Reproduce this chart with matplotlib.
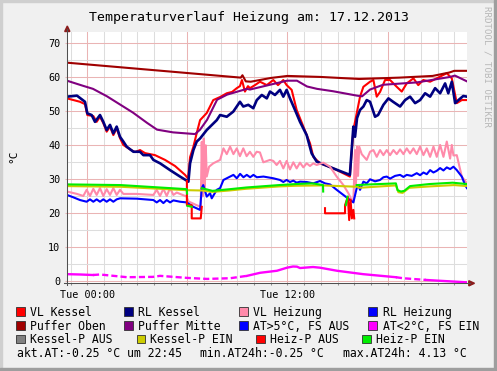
import numpy as np
import matplotlib
matplotlib.use("Agg")
import matplotlib.pyplot as plt
from matplotlib.patches import Rectangle, Polygon
from matplotlib.lines import Line2D
from matplotlib.transforms import blended_transform_factory

plt.rcParams['font.family'] = ['DejaVu Sans Mono']

nan = np.nan

# ---------------- data (time in hours relative to Tue 00:00, values in °C)
title = 'Temperaturverlauf Heizung am: 17.12.2013'
x_start, x_end = -1.2, 22.78
y_min, y_max = -0.59, 73.32
y_ticks = [0, 10, 20, 30, 40, 50, 60, 70]
x_tick_hours = [0, 12]
x_tick_labels = ['Tue 00:00', 'Tue 12:00']
y_unit = '°C'

vl_kessel_t = [-1.22, -0.44, -0.14, 0.0, 0.36, 0.56, 0.76, 0.96, 1.16, 1.36, 1.56, 1.76, 1.96, 2.16,
               2.56, 2.86, 3.16, 3.46, 4.06, 4.66, 5.26, 5.86, 6.04, 6.16, 6.36, 6.56, 6.76, 6.95,
               7.16, 7.55, 7.96, 8.36, 8.68, 8.96, 9.15, 9.27, 9.45, 9.63, 9.75, 10.05, 10.35, 10.76,
               11.15, 11.43, 11.75, 11.95, 12.25, 12.55, 12.95, 13.35, 13.55, 13.95, 14.75, 15.74,
               15.95, 16.15, 16.35, 16.55, 16.95, 17.15, 17.35, 17.55, 17.85, 18.15, 18.55, 18.85,
               19.15, 19.55, 19.84, 20.14, 20.55, 20.95, 21.55, 21.85, 22.15, 22.45, 22.76]
vl_kessel_v = [53.8, 52.8, 52.1, 48.9, 48.6, 46.9, 48.4, 46.5, 44.0, 45.5, 43.0, 45.0, 42.1, 40.1,
               38.8, 38.0, 38.6, 37.7, 37.1, 35.7, 33.9, 31.3, 30.2, 36.5, 39.6, 43.6, 47.4, 48.4,
               49.5, 53.3, 54.2, 55.3, 55.7, 56.8, 57.4, 59.2, 55.8, 57.4, 56.8, 57.7, 58.7, 57.7,
               59.2, 57.7, 59.2, 57.7, 56.3, 50.4, 45.5, 40.6, 36.6, 34.7, 33.2, 30.8,
               44.5, 49.4, 54.3, 57.2, 58.7, 59.2, 54.3, 55.7, 59.2, 59.2, 57.2, 55.8,
               58.2, 59.7, 57.7, 59.2, 58.7, 59.7, 61.2, 59.7, 52.4, 53.3, 53.3]

rl_kessel_t = [-1.22, -0.62, -0.14, 0.0, 0.26, 0.46, 0.76, 0.96, 1.16, 1.36, 1.56, 1.76, 1.96, 2.16,
               2.36, 2.76, 3.16, 3.36, 3.76, 3.96, 4.36, 4.96, 5.56, 6.06, 6.16, 6.36, 6.56, 6.76,
               7.16, 7.76, 7.96, 8.36, 8.75, 9.15, 9.35, 9.65, 9.95, 10.16, 10.46, 10.76, 10.95,
               11.25, 11.55, 11.75, 11.95, 12.15, 12.45, 12.75, 13.15, 13.45, 13.75, 14.75, 15.74,
               15.95, 16.05, 16.17, 16.35, 16.55, 16.75, 16.95, 17.25, 17.43, 17.75, 18.05, 18.33,
               18.75, 19.05, 19.35, 19.65, 19.95, 20.25, 20.55, 20.85, 21.15, 21.45, 21.64, 21.85,
               22.05, 22.25, 22.54, 22.76]
rl_kessel_v = [54.3, 54.6, 52.8, 49.4, 48.9, 46.9, 48.9, 46.9, 44.5, 46.0, 43.5, 45.5, 42.5, 41.1,
               39.6, 38.1, 38.1, 37.1, 37.1, 35.7, 34.7, 32.7, 30.8, 29.3, 34.7, 38.6, 41.1, 42.0,
               44.5, 47.4, 48.9, 48.4, 49.9, 52.8, 51.4, 51.9, 50.9, 53.3, 54.8, 53.8, 55.8,
               54.8, 56.3, 54.3, 56.3, 53.8, 50.4, 46.9, 43.0, 37.6, 35.2, 33.2, 31.3,
               45.5, 42.5, 48.0, 50.4, 51.4, 53.3, 52.8, 48.4, 48.9, 51.9, 53.8, 52.8,
               51.4, 53.3, 54.3, 52.4, 53.3, 55.3, 54.3, 56.8, 55.3, 58.2, 55.3, 58.7,
               52.4, 53.3, 54.5, 54.3]

vl_heizung_t = [-1.22, -0.62, -0.24, -0.04, 0.16, 0.36, 0.56, 0.76, 0.96, 1.16, 1.36, 1.56, 1.76, 1.96,
                2.16, 2.96, 3.96, 4.16, 4.36, 4.56, 4.76, 4.96, 5.16, 5.36, 5.96, 6.06, 6.5, 6.8,
                6.86, 6.92, 6.98, 7.04, 7.1, 7.16, 7.3, 7.55, 7.96, 8.16, 8.36, 8.56, 8.76, 8.96,
                9.15, 9.35, 9.55, 9.75, 9.95, 10.15, 10.35, 10.55, 10.95, 11.15, 11.35, 11.55, 11.75,
                11.95, 12.15, 12.35, 12.55, 12.75, 12.95, 13.15, 13.35, 13.55, 13.75, 14.15, 14.55,
                14.95, 15.35, 15.65, 15.85, 15.95, 16.05, 16.1, 16.17, 16.23, 16.3, 16.45, 16.75,
                16.95, 17.15, 17.35, 17.55, 17.75, 17.95, 18.15, 18.35, 18.55, 18.75, 18.95, 19.15,
                19.35, 19.55, 19.75, 19.95, 20.15, 20.35, 20.55, 20.75, 20.95, 21.15, 21.35, 21.55,
                21.75, 21.85, 21.95, 22.15, 22.45, 22.76]
vl_heizung_v = [26.4, 25.7, 25.1, 26.9, 25.1, 27.2, 25.4, 27.4, 25.1, 27.1, 25.4, 27.4, 25.4, 26.9,
                25.7, 25.7, 25.4, 26.9, 25.1, 27.2, 25.1, 27.4, 25.4, 26.1, 24.9, 23.5, 22.5, 21.9,
                41.0, 25.0, 42.0, 27.0, 40.0, 30.8, 33.7, 34.7, 35.7, 39.1, 37.4, 39.6, 37.4, 39.1,
                36.8, 39.1, 36.8, 38.1, 36.6, 38.1, 37.9, 35.0, 35.7, 35.4, 34.2, 35.4, 33.2,
                35.4, 32.9, 35.0, 33.2, 34.9, 33.5, 34.7, 33.9, 34.7, 34.2, 34.9, 33.7,
                30.8, 28.3, 25.9, 23.9, 23.5, 38.6, 28.0, 39.6, 31.0, 39.6, 37.4, 35.7,
                38.1, 38.6, 36.6, 38.6, 37.1, 38.6, 37.1, 38.6, 37.4, 38.8, 37.4, 39.1,
                37.6, 39.1, 37.4, 39.6, 37.1, 39.1, 36.6, 39.6, 36.6, 40.1, 36.6, 41.1,
                36.1, 40.1, 37.0, 37.1, 30.8, 28.8]

rl_heizung_t = [-1.22, -0.84, -0.44, -0.04, 0.16, 0.36, 0.56, 0.76, 0.96, 1.16, 1.36, 1.56, 1.76, 1.96,
                2.96, 3.96, 4.16, 4.36, 4.56, 4.76, 4.96, 5.16, 5.56, 5.96, 6.36, 6.76, 6.86, 6.95,
                7.16, 7.36, 7.46, 7.76, 7.96, 8.16, 8.36, 8.56, 8.76, 8.96, 9.16, 9.36, 9.56, 9.76,
                9.96, 10.16, 10.56, 11.15, 11.55, 11.75, 11.95, 12.15, 12.35, 12.55, 12.75, 13.15,
                13.55, 13.95, 14.25, 14.55, 14.95, 15.35, 15.75, 15.95, 16.15, 16.25, 16.35, 16.55,
                16.75, 16.95, 17.25, 17.55, 17.75, 17.95, 18.15, 18.45, 18.75, 18.95, 19.15, 19.45,
                19.75, 19.95, 20.15, 20.35, 20.55, 20.75, 20.95, 21.15, 21.35, 21.55, 21.75, 21.95,
                22.15, 22.45, 22.65, 22.76]
rl_heizung_v = [25.4, 24.7, 23.9, 23.4, 24.1, 23.4, 24.1, 23.4, 24.1, 23.4, 24.1, 23.4, 24.1, 24.4,
                24.3, 23.9, 23.2, 23.9, 23.0, 23.9, 23.2, 23.8, 23.4, 23.2, 21.9, 21.0, 27.4, 28.3,
                24.9, 25.9, 24.4, 26.9, 27.4, 29.8, 30.3, 30.8, 31.3, 30.3, 31.6, 30.6, 31.3, 30.6,
                31.3, 30.6, 30.8, 30.3, 29.8, 29.2, 29.8, 29.2, 29.6, 29.0, 29.3, 29.2,
                28.8, 29.5, 28.8, 28.5, 26.9, 25.4, 23.9, 23.2, 27.4, 28.3, 26.9, 29.3,
                28.8, 30.0, 29.4, 29.8, 30.6, 30.8, 30.2, 31.0, 31.3, 30.7, 31.3, 31.0,
                31.8, 31.2, 32.0, 31.5, 32.7, 32.0, 32.5, 33.3, 32.6, 33.5, 33.0, 33.7,
                32.7, 30.8, 28.3, 27.4]

puffer_oben_t = [-1.22, 9.2, 9.3, 9.5, 9.8, 11.0, 12.0, 14.0, 16.3, 18.7, 20.7, 21.7, 22.0, 22.76]
puffer_oben_v = [64.3, 59.9, 60.6, 58.8, 58.7, 59.8, 60.4, 60.1, 59.5, 59.9, 60.4, 61.4, 61.9, 61.9]

puffer_mitte_t = [-1.22, -0.26, 0.34, 1.18, 1.96, 2.74, 3.58, 4.18, 5.14, 6.46, 6.76, 7.18, 7.78, 8.38,
                  9.57, 9.75, 11.97, 12.57, 13.17, 13.77, 14.73, 16.17, 16.47, 16.95, 17.73, 19.77,
                  21.74, 22.04, 22.76]
puffer_mitte_v = [59.0, 57.5, 56.6, 54.4, 52.0, 49.6, 46.6, 44.6, 43.8, 43.3, 44.6, 47.5, 53.4, 54.9,
                  56.6, 56.4, 59.0, 59.0, 57.3, 56.6, 55.9, 54.6, 54.4, 56.4, 57.8, 58.5,
                  60.1, 60.5, 58.8]

at_t = [-1.22, -0.44, 0.34, 0.76, 2.38, 3.94, 4.36, 5.98, 7.18, 8.56, 9.57, 10.36, 11.37, 11.97,
        12.33, 12.57, 12.75, 13.53, 13.95, 14.97, 16.53, 18.5, 18.93, 20.3, 20.96, 22.76]
at_v = [2.1, 2.0, 1.85, 2.0, 1.2, 1.3, 1.6, 1.0, 0.7, 0.9, 1.6, 2.5, 3.1, 4.0,
        4.35, 4.3, 3.9, 4.2, 4.0, 3.1, 2.1, 1.2, 0.9, 0.4, 0.2, -0.3]
at_dashed_ranges = [(0.34, 9.57), (18.5, 20.3)]

kessel_p_ein_t = [-1.22, 2.0, 5.96, 6.9, 7.5, 8.5, 9.5, 11.5, 12.5, 14.1, 16.2, 16.3, 18.5, 18.65,
                  18.9, 19.3, 20.5, 22.0, 22.76]
kessel_p_ein_v = [28.0, 27.8, 26.8, 26.7, 26.3, 26.7, 27.2, 27.9, 28.1, 28.2, 27.8, 27.5, 28.2, 26.2,
                  26.0, 27.5, 27.9, 28.3, 28.0]

heiz_p_ein_t = [-1.22, 2.0, 5.96, 5.98, 5.99, 6.0, 6.26, 6.5, 6.86, 7.5, 8.56, 9.55, 11.5, 12.5,
                13.5, 14.13, 14.14, 14.5, 15.5, 15.6, 15.9, 16.15, 17.0, 18.5, 18.6, 18.8, 19.0,
                19.35, 20.5, 21.9, 22.76]
heiz_p_ein_v = [28.5, 28.3, 27.1, 25.8, nan, 22.2, 21.9, nan, 27.4, 26.6, 27.1, 27.6, 28.3, 28.6,
                28.8, 28.3, 26.4, nan, 22.4, 24.9, nan, 28.3, 28.5, 28.8, 26.8, 26.4, 26.6,
                28.0, 28.6, 29.0, 28.6]

heiz_p_aus_t = [5.97, 5.97, 6.26, 6.26, 6.8, 6.86, 10.0, 14.25, 14.25, 15.45, 15.45, 15.62, 15.7,
                15.78, 15.86, 15.95, 16.0]
heiz_p_aus_v = [29.5, 22.4, 22.4, 18.5, 18.5, 21.9, nan, 21.5, 20.0, 20.0, 22.4, 24.8, 18.0,
                24.0, 18.5, 21.0, 18.5]

legend_labels = ['VL Kessel', 'RL Kessel', 'VL Heizung', 'RL Heizung',
                 'Puffer Oben', 'Puffer Mitte', 'AT>5°C, FS AUS', 'AT<2°C, FS EIN',
                 'Kessel-P AUS', 'Kessel-P EIN', 'Heiz-P AUS', 'Heiz-P EIN']
stats_texts = ['akt.AT:-0.25 °C um 22:45', 'min.AT24h:-0.25 °C', 'max.AT24h: 4.13 °C']
watermark = 'RRDTOOL / TOBI OETIKER'

# ---------------- styles
C_VLK, C_RLK, C_VLH, C_RLH = '#ff0000', '#000080', '#ff8aaa', '#0000ff'
C_PO, C_PM, C_AT5, C_AT2 = '#a00000', '#800080', '#0000ff', '#ff00ff'
C_KPA, C_KPE, C_HPA, C_HPE = '#808080', '#cccc00', '#ff0000', '#00ee00'
legend_colors = [C_VLK, C_RLK, C_VLH, C_RLH, C_PO, C_PM, C_AT5, C_AT2, C_KPA, C_KPE, C_HPA, C_HPE]

W, H, DPI = 497, 371, 100
BG = '#f0f0f0'
MAJ = '#eab4b4'
MIN = '#dddddd'

fig = plt.figure(figsize=(W / DPI, H / DPI), dpi=DPI)
fig.patch.set_facecolor(BG)


def fx(px):
    return px / W


def fy(py):
    return 1 - py / H


# frame shading
fig.patches.append(Rectangle((0, fy(2)), 1, 2 / H, transform=fig.transFigure, color='#cfcfcf', zorder=0))
fig.patches.append(Rectangle((0, 0), 2 / W, 1, transform=fig.transFigure, color='#cfcfcf', zorder=0))
fig.patches.append(Rectangle((0, 0), 1, 3 / H, transform=fig.transFigure, color='#9e9e9e', zorder=0))
fig.patches.append(Rectangle((fx(494), 0), 3 / W, 1, transform=fig.transFigure, color='#9e9e9e', zorder=0))

AX_L, AX_R, AX_T, AX_B = 67.3, 467.3, 32.0, 283.3
ax = fig.add_axes([fx(AX_L), fy(AX_B), (AX_R - AX_L) / W, (AX_B - AX_T) / H])
ax.set_facecolor('white')
ax.set_xlim(x_start, x_end)
ax.set_ylim(y_min, y_max)
for s in ax.spines.values():
    s.set_visible(False)

# grid
for h in range(-1, 23):
    ax.axvline(h, color=MAJ if h % 6 == 0 else MIN, lw=0.75, zorder=1)
for v in range(5, 75, 5):
    ax.axhline(v, color=MAJ if v % 10 == 0 else MIN, lw=0.75, zorder=1)
ax.axhline(0, color=MAJ, lw=0.75, zorder=1)

# ticks
ax.set_yticks(y_ticks)
ax.set_yticklabels([str(v) for v in y_ticks])
ax.tick_params(axis='y', length=1.5, width=0.75, color=MAJ, pad=3.4, labelsize=7.3)
ax.set_xticks(list(range(-1, 23)))
ax.set_xticklabels([])
ax.tick_params(axis='x', length=1.5, width=0.75, color='#909090')
trx = blended_transform_factory(ax.transData, fig.transFigure)
for h, lab in zip(x_tick_hours, x_tick_labels):
    ax.text(h, fy(298), lab, transform=trx, ha='center', va='baseline', fontsize=7.3)

# data lines
lw = 1.5
ax.plot(vl_kessel_t, vl_kessel_v, color=C_VLK, lw=lw, zorder=3)
ax.plot(rl_kessel_t, rl_kessel_v, color=C_RLK, lw=1.9, zorder=3)
ax.plot(vl_heizung_t, vl_heizung_v, color=C_VLH, lw=lw, zorder=3)
ax.plot(rl_heizung_t, rl_heizung_v, color=C_RLH, lw=lw, zorder=3)
ax.plot(puffer_oben_t, puffer_oben_v, color=C_PO, lw=lw, zorder=3)
ax.plot(puffer_mitte_t, puffer_mitte_v, color=C_PM, lw=lw, zorder=3)

# outside temperature, split into solid and dashed stretches
at_t_arr = np.array(at_t)
at_v_arr = np.array(at_v)


def dashed_at(t0, t1):
    m = 0.5 * (t0 + t1)
    return any(a <= m <= b for a, b in at_dashed_ranges)


start = 0
for i in range(1, len(at_t_arr)):
    cur = dashed_at(at_t_arr[i - 1], at_t_arr[i])
    nxt = dashed_at(at_t_arr[i], at_t_arr[i + 1]) if i + 1 < len(at_t_arr) else None
    if nxt != cur:
        seg_t = at_t_arr[start:i + 1]
        seg_v = at_v_arr[start:i + 1]
        ax.plot(seg_t, seg_v, color=C_AT2, lw=1.7, zorder=3,
                linestyle=(0, (2.6, 1.3)) if cur else '-')
        start = i

ax.plot(kessel_p_ein_t, kessel_p_ein_v, color=C_KPE, lw=lw, zorder=3)
ax.plot(heiz_p_aus_t, heiz_p_aus_v, color=C_HPA, lw=lw, zorder=3)
ax.plot(heiz_p_ein_t, heiz_p_ein_v, color=C_HPE, lw=lw, zorder=3)

# axes lines & arrows
AXC = '#505050'
ARC = '#8b1c1c'
fig.add_artist(Line2D([fx(AX_L), fx(AX_L)], [fy(AX_B + 2), fy(29)], color=AXC, lw=0.75,
                      transform=fig.transFigure))
fig.add_artist(Line2D([fx(AX_L - 3), fx(470)], [fy(AX_B), fy(AX_B)], color=AXC, lw=0.75,
                      transform=fig.transFigure))
fig.add_artist(Polygon([[fx(AX_L), fy(26.0)], [fx(AX_L - 2.6), fy(31.5)], [fx(AX_L + 2.6), fy(31.5)]],
                       closed=True, color=ARC, transform=fig.transFigure))
fig.add_artist(Polygon([[fx(474.5), fy(AX_B)], [fx(468.8), fy(AX_B - 2.6)], [fx(468.8), fy(AX_B + 2.6)]],
                       closed=True, color=ARC, transform=fig.transFigure))

# texts
fig.text(fx(249.2), fy(20.7), title, ha='center', va='baseline', fontsize=9.5)
fig.text(fx(13.6), fy(156.2), y_unit, rotation=90, ha='center', va='center', fontsize=8)
fig.text(fx(486.8), fy(66.5), watermark, rotation=270, ha='center', va='center',
         fontsize=6.6, color='#b8b8b8')

# legend
row_base = [315.6, 329.5, 343.4]
sq_x = [[16, 124, 239.3, 368.3], [16, 124, 239.3, 368.3], [16, 136.7, 256, 362.3]]
tx_x = [[30, 138.3, 253.3, 382.7], [30, 138.3, 253.3, 382.7], [30, 150, 270, 376]]
SQ = 8.7
for i, (lab, col) in enumerate(zip(legend_labels, legend_colors)):
    r, c = divmod(i, 4)
    b = row_base[r]
    fig.patches.append(Rectangle((fx(sq_x[r][c]), fy(b)), SQ / W, SQ / H, transform=fig.transFigure,
                                 facecolor=col, edgecolor='#303030', lw=0.6))
    fig.text(fx(tx_x[r][c]), fy(b), lab, ha='left', va='baseline', fontsize=8.3)

for xs, s in zip([16.7, 200, 342.7], stats_texts):
    fig.text(fx(xs), fy(356.9), s, ha='left', va='baseline', fontsize=8.3)

fig.savefig('out.png', dpi=DPI, facecolor=fig.get_facecolor())
